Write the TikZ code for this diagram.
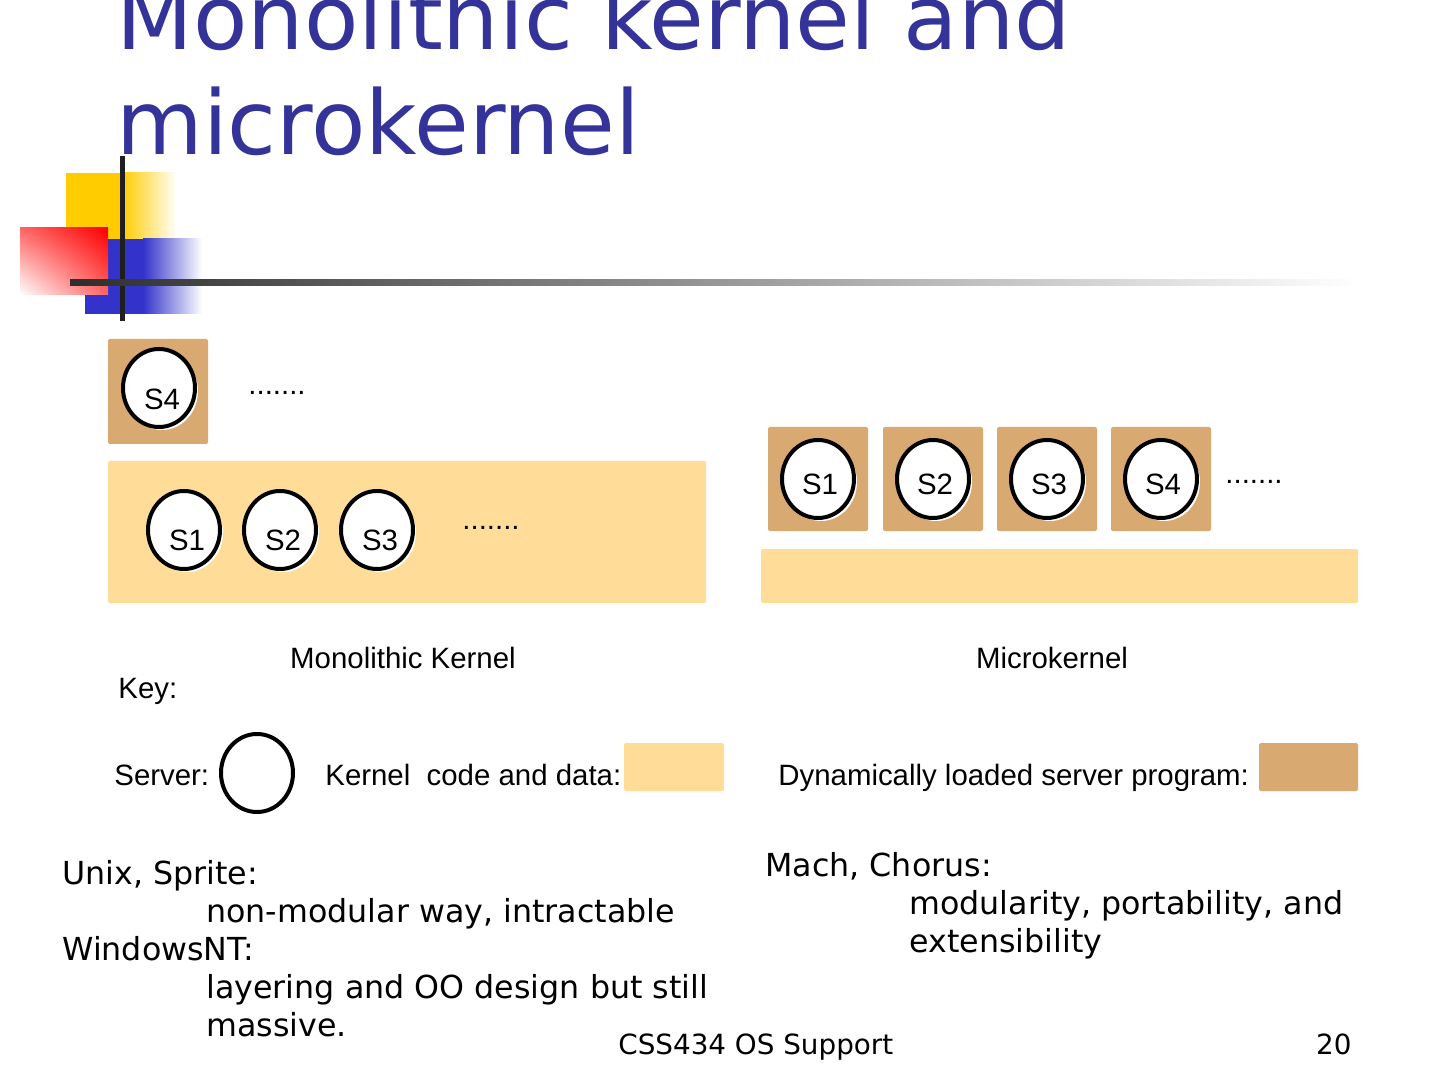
\documentclass[tikz,border=0pt]{standalone}
\usepackage{fontspec}
\setmainfont{DejaVu Sans}
\newfontfamily\labelfont{Liberation Sans}
\usepackage{tikz}
\usetikzlibrary{shapes.geometric, shadows, shadings}

\definecolor{titleblue}{RGB}{51,51,153}
\definecolor{kernelfill}{RGB}{255,221,153}
\definecolor{serverfill}{RGB}{216,169,112}
\definecolor{logoyellow}{RGB}{255,204,0}
\definecolor{logoblue}{RGB}{51,51,204}
\definecolor{logored}{RGB}{255,0,0}

\begin{document}
\begin{tikzpicture}[x=0.5pt, y=-0.5pt,
  server/.style={ellipse, draw, line width=2pt, fill=white, inner sep=0pt,
    minimum width=36pt, minimum height=39pt,
    drop shadow={fill=white, opacity=1, shadow xshift=1.5pt, shadow yshift=-1.5pt}},
  srvlabel/.style={font=\labelfont\fontsize{14.7}{17}\selectfont, inner sep=0pt},
  diag/.style={font=\labelfont\fontsize{14.7}{17}\selectfont, inner sep=0pt, anchor=base west},
  body/.style={font=\fontsize{15.85}{19}\selectfont, inner sep=0pt, anchor=base west},
  kbox/.style={fill=kernelfill, rounded corners=1pt},
  sbox/.style={fill=serverfill, rounded corners=1pt}]
  \useasboundingbox (0,0) rectangle (1440,1080);
  \clip (0,0) rectangle (1440,1080);

  % ---- Logo squares and rules ----
  \fill[logoyellow] (66,173) rectangle (122,245);
  \shade[left color=logoyellow, right color=white] (122,173) rectangle (177,245);
  \fill[logoblue] (85,239) rectangle (143,314);
  \shade[left color=logoblue, right color=white] (143,239) rectangle (202,314);
  \shade[upper left=red!60, upper right=logored, lower left=white, lower right=red!60]
    (20,228) rectangle (108,295);
  \draw[line width=2.5pt, black!88] (122,156) -- (122,321);
  \shade[left color=black!82, right color=white] (70,280) rectangle (1360,286);

  % ---- Title ----
  \node[font=\fontsize{44.5}{52}\selectfont, text=titleblue, inner sep=0pt, anchor=base west]
    (title1) at (116,50) {Monolithic kernel and};
  \node[font=\fontsize{44.5}{52}\selectfont, text=titleblue, inner sep=0pt, anchor=base west]
    (title2) at (116,155) {microkernel};

  % ---- Monolithic kernel ----
  \fill[sbox] (108,339) rectangle (208,444);
  \fill[kbox] (108,461) rectangle (706,603);
  \node[server] (mono4) at (159,388) {};
  \node[srvlabel] (monotext4) at ([shift={(3,11)}]mono4.center) {S4};
  \foreach \n/\x in {1/184, 2/280, 3/377} {
    \node[server] (mono\n) at (\x,530) {};
    \node[srvlabel] (monotext\n) at ([shift={(3,10)}]mono\n.center) {S\n};
  }
  \node[diag] (monodots1) at (248,395) {.......};
  \node[diag] (monodots2) at (462,529) {.......};
  \node[diag, anchor=base] (mononame) at (403,668) {Monolithic Kernel};

  % ---- Microkernel ----
  \fill[kbox] (761,549) rectangle (1358,603);
  \foreach \n/\x in {1/818, 2/933, 3/1047, 4/1161} {
    \fill[sbox] (\x-50,427) rectangle (\x+50,531);
    \node[server] (micro\n) at (\x,479) {};
    \node[srvlabel] (microtext\n) at ([shift={(2,5)}]micro\n.center) {S\n};
  }
  \node[diag] (microdots) at (1225,483) {.......};
  \node[diag, anchor=base] (microname) at (1052,668) {Microkernel};

  % ---- Key ----
  \node[diag] (key) at (118,698) {Key:};
  \node[diag] (keyserver) at (114,785) {Server:};
  \node[server] (keycircle) at (257,773) {};
  \node[diag] (keykernel) at (325,785) {Kernel~~code and data:};
  \fill[kbox] (624,743) rectangle (724,791);
  \node[diag] (keyloaded) at (778,785) {Dynamically loaded server program:};
  \fill[sbox] (1259,743) rectangle (1358,791);

  % ---- Examples ----
  \node[body] (unix) at (62,884) {Unix, Sprite:};
  \node[body] (unixnote) at (206,922) {non-modular way, intractable};
  \node[body] (winnt) at (62,960) {WindowsNT:};
  \node[body] (winntnote1) at (206,998) {layering and OO design but still};
  \node[body] (winntnote2) at (206,1036) {massive.};
  \node[body] (mach) at (765,876) {Mach, Chorus:};
  \node[body] (machnote1) at (909,914) {modularity, portability, and};
  \node[body] (machnote2) at (909,952) {extensibility};

  % ---- Footer ----
  \node[body, font=\fontsize{13.9}{16}\selectfont] (footer) at (618,1054) {CSS434 OS Support};
  \node[body, font=\fontsize{13.9}{16}\selectfont, anchor=base east] (pageno) at (1352,1054) {20};
\end{tikzpicture}
\end{document}
